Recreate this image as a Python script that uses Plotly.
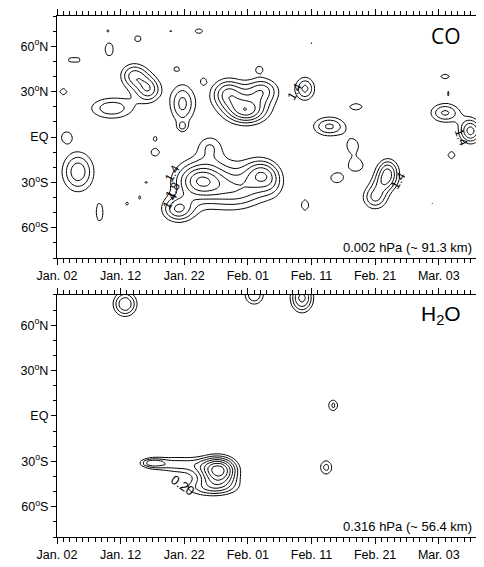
import numpy as np
import plotly.graph_objects as go

# ---------------- axis labels ----------------
day_ticks = [0, 10, 20, 30, 40, 50, 60]
day_labels = ["Jan. 02", "Jan. 12", "Jan. 22", "Feb. 01", "Feb. 11", "Feb. 21", "Mar. 03"]
lat_ticks = [-60, -30, 0, 30, 60]
lat_labels = ["60<sup>o</sup>S", "30<sup>o</sup>S", "EQ", "30<sup>o</sup>N", "60<sup>o</sup>N"]

# ---------------- CO anomaly features (day since Jan 02, latitude, amplitude, spread) ----------------
co_day = [8.0, 12.7, 17.8, 22.3, 8.2, 2.7, 12.0, 14.5, 13.2, 18.8, 23.0, 19.7, 19.7, 8.6, 1.0, 1.5,
          15.4, 15.4, 3.3, 6.7, 11.0, 13.0, 14.0,
          22.4, 19.0, 25.0, 32.0, 29.0, 24.0, 34.0,
          29.8, 26.8, 32.3, 29.5, 31.8, 39.0, 40.0, 37.0, 14.0,
          42.8, 46.5, 47.0, 55.0, 52.0, 50.0, 51.5, 44.0, 47.0, 55.0, 59.0, 39.0,
          61.0, 65.0, 62.0, 67.0, 61.0, 61.5]
co_lat = [70.5, 65.0, 70.0, 70.0, 58.0, 51.0, 41.0, 31.0, 36.0, 45.0, 37.0, 22.0, 6.6, 19.0, 30.0, 0.0,
          -1.0, -10.0, -23.0, -50.0, -44.0, -40.0, -30.0,
          -29.0, -48.0, -30.0, -24.0, -36.0, -6.0, -30.0,
          17.0, 29.0, 31.0, 24.0, 45.0, 32.0, 62.0, 82.0, 82.0,
          7.0, -6.0, 20.0, 0.6, -22.0, -40.0, -30.0, -27.0, -19.0, -45.0, -44.0, -45.0,
          16.0, 4.0, -12.0, -20.0, 40.0, 29.0]
co_amp = [0.42, 0.50, 0.44, 0.50, 0.55, 0.50, 0.70, 0.75, 0.30, 0.45, 0.45, 0.85, 0.45, 0.75, 0.50, 0.55,
          0.45, 0.50, 0.95, 0.50, 0.45, 0.44, 0.42,
          0.90, 0.90, 0.60, 0.80, 0.50, 0.45, 0.40,
          1.00, 0.80, 0.70, 0.40, 0.45, 0.85, 0.42, 0.50, 0.50,
          0.85, 0.50, 0.55, 0.42, 0.90, 0.85, 0.60, 0.55, 0.55, 0.42, 0.42, 0.50,
          0.85, 1.10, 0.50, 0.60, 0.50, 0.44]
co_sx = [0.5, 0.8, 0.6, 0.9, 0.8, 1.6, 1.6, 1.4, 2.0, 0.7, 0.5, 1.5, 0.6, 2.8, 0.8, 0.9,
         0.7, 0.8, 1.9, 0.8, 0.6, 0.4, 0.4,
         2.5, 1.8, 5.0, 1.8, 3.0, 1.5, 1.5,
         2.2, 1.8, 1.8, 4.0, 0.7, 1.2, 0.25, 0.6, 0.6,
         2.0, 1.3, 1.2, 0.5, 1.3, 1.5, 1.5, 1.2, 1.2, 0.3, 0.3, 0.8,
         1.8, 1.3, 0.8, 1.0, 1.0, 0.25]
co_sy = [2.0, 3.0, 2.0, 2.5, 5.4, 2.4, 6.0, 6.0, 8.0, 2.0, 2.5, 10.0, 2.5, 5.8, 3.0, 4.0,
         2.5, 3.0, 10.0, 8.4, 2.5, 2.5, 1.5,
         8.0, 6.0, 15.0, 7.0, 8.0, 6.0, 8.0,
         6.0, 7.0, 6.0, 10.0, 2.5, 6.0, 2.5, 3.0, 3.0,
         5.0, 6.0, 2.5, 1.0, 6.0, 6.0, 5.0, 4.0, 4.0, 1.5, 1.5, 5.0,
         5.0, 6.0, 3.5, 5.0, 2.5, 2.5]
co_base = 1.0

# ---------------- H2O anomaly features ----------------
h2o_day = [10.7, 16.8, 25.5, 19.0, 14.8, 24.0, 31.0, 38.5, 43.4, 39.5, 42.3]
h2o_lat = [74.0, -4.6, -36.0, -32.0, -31.0, -48.0, 80.0, 78.0, 7.0, -9.0, -34.0]
h2o_amp = [0.30, 0.16, 0.45, 0.22, 0.20, 0.20, 0.25, 0.32, 0.22, 0.16, 0.22]
h2o_sx = [1.6, 0.35, 2.2, 3.5, 1.5, 4.0, 1.4, 1.5, 0.8, 0.4, 1.0]
h2o_sy = [7.0, 1.2, 7.0, 5.0, 2.5, 5.0, 6.0, 8.0, 4.0, 1.5, 5.0]
h2o_base = 0.0

days = np.arange(0, 67.01, 0.5)
lats = np.arange(-80, 80.01, 2.0)
D, L = np.meshgrid(days, lats)


def build(base, dd, ll, aa, sx, sy):
    z = np.full(D.shape, base, dtype=float)
    for d0, l0, a, s1, s2 in zip(dd, ll, aa, sx, sy):
        z += a * np.exp(-0.5 * ((D - d0) / s1) ** 2 - 0.5 * ((L - l0) / s2) ** 2)
    return z


co_z = build(co_base, co_day, co_lat, co_amp, co_sx, co_sy)
h2o_z = build(h2o_base, h2o_day, h2o_lat, h2o_amp, h2o_sx, h2o_sy)

black = [[0, "black"], [1, "black"]]
fig = go.Figure()
fig.add_trace(go.Contour(x=days, y=lats, z=co_z, xaxis="x", yaxis="y",
                         contours=dict(start=1.4, end=3.2, size=0.2, coloring="lines"),
                         colorscale=black, showscale=False, line=dict(width=1, color="black"),
                         hoverinfo="skip"))
fig.add_trace(go.Contour(x=days, y=lats, z=h2o_z, xaxis="x2", yaxis="y2",
                         contours=dict(start=0.15, end=0.8, size=0.05, coloring="lines"),
                         colorscale=black, showscale=False, line=dict(width=1, color="black"),
                         hoverinfo="skip"))

xr = [0, 66.8]
tickfont = dict(family="Liberation Sans, Arial", size=12.5, color="black")
top_dom = [0.5354, 1.0]
bot_dom = [0.0, 0.4646]


def xax(anchor):
    return dict(range=xr, anchor=anchor, domain=[0, 1], side="bottom", ticks="outside",
                ticklen=6, tickwidth=1, tickcolor="black", tickvals=day_ticks,
                ticktext=day_labels, tickfont=tickfont, showgrid=False, zeroline=False,
                showline=True, linecolor="black", linewidth=1.2, mirror="allticks",
                minor=dict(dtick=1, tick0=0, ticks="outside", ticklen=3.5, tickwidth=1,
                           tickcolor="black"))


def yax(anchor, domain):
    return dict(range=[-80, 80], anchor=anchor, domain=domain, ticks="outside", ticklen=5,
                tickwidth=1, tickcolor="black", tickvals=lat_ticks, ticktext=lat_labels,
                tickfont=tickfont, showgrid=False, zeroline=False, showline=True,
                linecolor="black", linewidth=1.2, mirror=True,
                minor=dict(dtick=10, tick0=0, ticks="outside", ticklen=3, tickwidth=1,
                           tickcolor="black"))


# the page body adds an 8 px margin, so the figure is made 8 px smaller to fill the window
fig.update_layout(
    width=476, height=559,
    margin=dict(l=49, r=1, t=6, b=30),
    paper_bgcolor="white", plot_bgcolor="white",
    showlegend=False,
    xaxis=xax("y"),
    yaxis=yax("x", top_dom),
    xaxis2=xax("y2"),
    yaxis2=yax("x2", bot_dom),
)

annos = [
    dict(x=0.955, y=0.962, xref="paper", yref="paper", text="CO", showarrow=False,
         font=dict(family="Open Sans", size=21, color="black"), xanchor="right", yanchor="middle"),
    dict(x=0.98, y=0.555, xref="paper", yref="paper", text="0.002 hPa (~ 91.3 km)", showarrow=False,
         font=dict(family="Liberation Sans, Arial", size=13, color="black"), xanchor="right", yanchor="middle"),
    dict(x=0.955, y=0.427, xref="paper", yref="paper", text="H<sub>2</sub>O", showarrow=False,
         font=dict(family="Liberation Sans, Arial", size=21, color="black"), xanchor="right", yanchor="middle"),
    dict(x=0.98, y=0.02, xref="paper", yref="paper", text="0.316 hPa (~ 56.4 km)", showarrow=False,
         font=dict(family="Liberation Sans, Arial", size=13, color="black"), xanchor="right", yanchor="middle"),
]
# contour labels
lab_x = [18.2, 18.2, 17.7, 37.3, 63.5, 53.6]
lab_y = [-24.0, -35.0, -42.0, 30.0, 0.0, -29.0]
lab_t = ["1.4", "1.8", "1.4", "1.4", "1.4", "1.4"]
lab_a = [-60, -60, -60, -60, 70, -60]
for x, y, t, a in zip(lab_x, lab_y, lab_t, lab_a):
    annos.append(dict(x=x, y=y, xref="x", yref="y", text=t, showarrow=False, textangle=a,
                      font=dict(family="Liberation Sans, Arial", size=12, color="black")))
annos.append(dict(x=19.8, y=-46.0, xref="x2", yref="y2", text="0.20", showarrow=False, textangle=35,
                  font=dict(family="Liberation Sans, Arial", size=13, color="black")))
fig.update_layout(annotations=annos)

fig.write_html("out.html", config={"displayModeBar": False})
